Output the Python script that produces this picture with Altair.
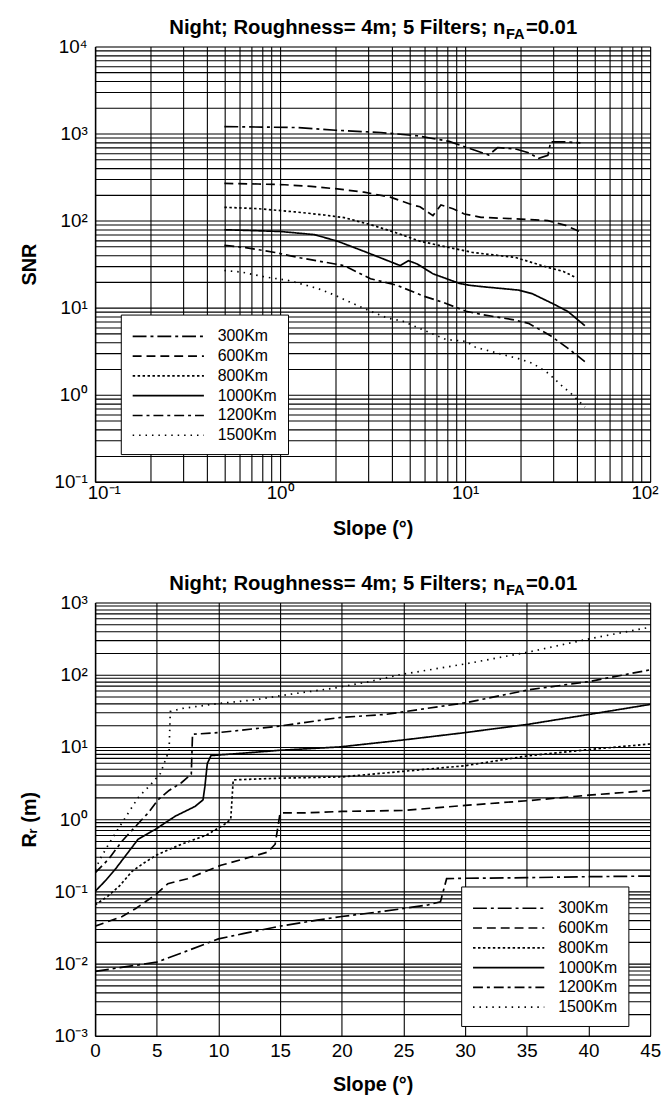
import altair as alt
import pandas as pd

FONT = "Liberation Sans"

series_names = ["300Km", "600Km", "800Km", "1000Km", "1200Km", "1500Km"]
dash_patterns = [[14, 4, 3, 4], [9, 5], [2.5, 2.5], [1, 0], [10, 4, 3, 4], [1.5, 5]]

# ---------------- top panel: SNR vs slope (log-log) ----------------
snr_x_300 = [0.5, 0.8, 1.25, 2.0, 3.5, 5.5, 8.2, 10.5, 13.4, 15, 19, 22, 25, 28, 29, 35, 42]
snr_y_300 = [1200, 1185, 1170, 1090, 1026, 942, 813, 677, 566, 690, 660, 600, 520, 560, 800, 800, 780]
snr_x_600 = [0.5, 0.76, 1.06, 1.47, 2.04, 2.84, 3.94, 5.25, 5.7, 6.7, 7.4, 8.6, 9.9, 12.2, 20, 28, 35, 42]
snr_y_600 = [267, 263, 258, 247, 231, 212, 186, 150, 144, 114, 151, 137, 119, 109, 104, 100, 88, 74]
snr_x_800 = [0.5, 0.76, 1.2, 1.73, 2.22, 3.07, 4.27, 5.7, 8.2, 11, 18.7, 28, 34, 40]
snr_y_800 = [142, 137, 126, 116, 108, 90, 72, 58, 49, 43, 37.7, 29, 26, 22]
snr_x_1000 = [0.5, 1.0, 1.53, 2.04, 2.95, 4.46, 4.94, 5.5, 6.7, 9.3, 10.5, 12.4, 19.5, 23, 30.6, 36, 44.4]
snr_y_1000 = [78.5, 75, 69, 58, 43, 30.4, 34.6, 31.8, 24.5, 19, 18.1, 17.4, 15.9, 14.5, 10.8, 9, 6.2]
snr_x_1200 = [0.5, 0.65, 0.73, 0.94, 1.25, 2.22, 3.08, 4.27, 5.94, 7.6, 10.1, 12.4, 18, 22, 28.8, 36, 44.4]
snr_y_1200 = [52, 49, 47, 43, 37.7, 30.4, 21.5, 18.1, 13.6, 11.5, 9.1, 8.3, 7.3, 6.6, 4.8, 3.4, 2.4]
snr_x_1500 = [0.5, 0.62, 0.83, 1.1, 1.6, 1.96, 2.4, 3.0, 3.8, 4.6, 6.0, 7.9, 10.1, 11.4, 15, 19.4, 23.1, 28.1, 33.4, 38, 44.4]
snr_y_1500 = [26.7, 25.6, 22.5, 20.6, 16.6, 14, 11.5, 9.3, 7.6, 7.0, 5.5, 4.3, 4.1, 3.5, 3.0, 2.6, 2.3, 1.77, 1.26, 1.0, 0.72]

# ---------------- bottom panel: Rr vs slope (lin-log) ----------------
rr_x_300 = [0, 2, 5, 7, 10, 12, 15, 18, 20, 23, 25, 27, 28, 28.5, 30, 35, 40, 45]
rr_y_300 = [0.0078, 0.0088, 0.0105, 0.014, 0.022, 0.026, 0.033, 0.040, 0.045, 0.052, 0.058, 0.065, 0.072, 0.15, 0.152, 0.155, 0.16, 0.163]
rr_x_600 = [0, 1, 2.2, 3.3, 4.9, 5.9, 7.5, 10.2, 12, 14, 14.6, 15, 17, 20, 25, 30, 35, 40, 45]
rr_y_600 = [0.033, 0.038, 0.045, 0.058, 0.09, 0.128, 0.15, 0.23, 0.28, 0.35, 0.45, 1.22, 1.22, 1.28, 1.32, 1.55, 1.8, 2.15, 2.5]
rr_x_800 = [0, 1, 2, 3, 4, 5, 7, 9, 10.5, 11.0, 11.2, 15, 20, 25, 30, 35, 40, 45]
rr_y_800 = [0.065, 0.085, 0.12, 0.19, 0.25, 0.32, 0.45, 0.6, 0.85, 1.0, 3.5, 3.7, 3.85, 4.6, 5.5, 7.5, 9.2, 11]
rr_x_1000 = [0, 0.86, 1.66, 2.46, 3.5, 4.87, 6.5, 8.1, 8.75, 8.9, 9.1, 9.4, 12, 15, 19.8, 25, 30, 35.2, 40.1, 45]
rr_y_1000 = [0.10, 0.142, 0.205, 0.31, 0.53, 0.72, 1.1, 1.5, 1.85, 2.8, 5.9, 7.6, 8.2, 9.0, 10, 12.5, 15.8, 20.7, 28.3, 38.8]
rr_x_1200 = [0, 1.1, 2.2, 3.3, 4.3, 5.1, 6, 7, 7.8, 7.9, 10, 15, 19.8, 23.6, 30, 35.2, 40.1, 45]
rr_y_1200 = [0.18, 0.28, 0.5, 0.8, 1.22, 1.85, 2.5, 3.2, 4.2, 15, 15.8, 19.5, 25.5, 28.3, 40.8, 62, 80.7, 117]
rr_x_1500 = [0, 0.5, 1.1, 2.2, 3.5, 4.5, 5.3, 6.0, 6.1, 7, 10, 13, 15.6, 19.3, 22.2, 24.7, 30.3, 35.2, 40.1, 45]
rr_y_1500 = [0.2, 0.3, 0.45, 0.9, 2.0, 3.0, 4.3, 9, 31, 34, 40, 45, 53, 65, 80, 100, 144, 207, 315, 455]

# tick / grid values
top_x_ticks = [m * 10.0 ** e for e in (-1, 0, 1) for m in range(1, 10)] + [100.0]
top_y_ticks = [m * 10.0 ** e for e in (-1, 0, 1, 2, 3) for m in range(1, 10)] + [10000.0]
bot_x_ticks = [0, 5, 10, 15, 20, 25, 30, 35, 40, 45]
bot_y_ticks = [m * 10.0 ** e for e in (-3, -2, -1, 0, 1, 2) for m in range(1, 10)] + [1000.0]

title_main = "Night; Roughness= 4m; 5 Filters; n"
title_sub = "FA"
title_end = "=0.01"


def build_df(xs_list, ys_list, xname, yname):
    rows = []
    for name, xs, ys in zip(series_names, xs_list, ys_list):
        for i, (a, b) in enumerate(zip(xs, ys)):
            rows.append({xname: a, yname: b, "alt": name, "i": i})
    return pd.DataFrame(rows)


top_df = build_df([snr_x_300, snr_x_600, snr_x_800, snr_x_1000, snr_x_1200, snr_x_1500],
                  [snr_y_300, snr_y_600, snr_y_800, snr_y_1000, snr_y_1200, snr_y_1500],
                  "slope", "snr")
bot_df = build_df([rr_x_300, rr_x_600, rr_x_800, rr_x_1000, rr_x_1200, rr_x_1500],
                  [rr_y_300, rr_y_600, rr_y_800, rr_y_1000, rr_y_1200, rr_y_1500],
                  "slope", "rr")

LOG_LABEL = ("abs(log(datum.value)/LN10 - round(log(datum.value)/LN10)) < 0.01 ? "
             "'10' + ['\u207b\u00b3','\u207b\u00b2','\u207b\u00b9','\u2070','\u00b9','\u00b2','\u00b3','\u2074']"
             "[round(log(datum.value)/LN10) + 3] : ''")

W = 561
H_TOP = 440
H_BOT = 438
FS_TITLE = 20.5


def axis(values, title, log=True, fmt=None, title_pad=15, label_pad=4, flush=False):
    kw = dict(values=values, grid=True, ticks=False, gridColor="black", gridWidth=1.1,
              gridOpacity=1, labelFont=FONT, labelFontSize=19, labelColor="black",
              labelPadding=label_pad, labelOverlap=False, labelFlush=flush,
              title=title, titleFont=FONT, titleFontSize=20, titleFontWeight="bold",
              titleColor="black", titlePadding=title_pad, domainColor="black", domainWidth=1.5)
    if flush:
        kw["labelFlushOffset"] = 8
    if log:
        kw["labelExpr"] = LOG_LABEL
    if fmt:
        kw["format"] = fmt
    return alt.Axis(**kw)


def legend(lx, ly):
    return alt.Legend(orient="none", legendX=lx, legendY=ly, title=None,
                      strokeColor="black", fillColor="white", padding=11,
                      symbolType="M-1,0H6.2", symbolSize=400, symbolStrokeWidth=1.7,
                      symbolStrokeColor="black", symbolFillColor="transparent",
                      labelFont=FONT, labelFontSize=16,
                      labelColor="black", rowPadding=1, labelOffset=65)


def title_layers():
    fs_sub = FS_TITLE * 0.72
    w_main = 16.586 * FS_TITLE
    w_sub = 1.333 * fs_sub
    w_end = 2.53 * FS_TITLE
    total = w_main + w_sub + w_end
    x0 = W / 2 - total / 2
    xa = x0 + w_main
    base = pd.DataFrame({"a": [title_main], "b": [title_sub], "c": [title_end]})
    common = dict(font=FONT, fontWeight="bold", color="black", baseline="alphabetic")
    t1 = alt.Chart(base).mark_text(align="right", fontSize=FS_TITLE, **common).encode(
        x=alt.value(xa), y=alt.value(-13), text="a:N")
    t2 = alt.Chart(base).mark_text(align="left", fontSize=fs_sub, **common).encode(
        x=alt.value(xa + 0.5), y=alt.value(-8), text="b:N")
    t3 = alt.Chart(base).mark_text(align="left", fontSize=FS_TITLE, **common).encode(
        x=alt.value(xa + w_sub + 1), y=alt.value(-13), text="c:N")
    return [t1, t2, t3]


top_lines = alt.Chart(top_df).mark_line(color="black", strokeWidth=1.7, clip=True).encode(
    x=alt.X("slope:Q", scale=alt.Scale(type="log", domain=[0.1, 100], nice=False),
            axis=axis(top_x_ticks, "Slope (\u00b0)", title_pad=16, label_pad=2, flush=True)),
    y=alt.Y("snr:Q", scale=alt.Scale(type="log", domain=[0.1, 10000], nice=False),
            axis=axis(top_y_ticks, "SNR", title_pad=15, label_pad=8)),
    strokeDash=alt.StrokeDash("alt:N", scale=alt.Scale(domain=series_names, range=dash_patterns),
                              legend=legend(26, 271)),
    order=alt.Order("i:Q"),
)
top = alt.layer(top_lines, *title_layers()).properties(width=W, height=H_TOP)

bot_lines = alt.Chart(bot_df).mark_line(color="black", strokeWidth=1.7, clip=True).encode(
    x=alt.X("slope:Q", scale=alt.Scale(domain=[0, 45], nice=False),
            axis=axis(bot_x_ticks, "Slope (\u00b0)", log=False, fmt="d", title_pad=14, label_pad=6)),
    y=alt.Y("rr:Q", scale=alt.Scale(type="log", domain=[0.001, 1000], nice=False),
            axis=axis(bot_y_ticks, "R\u1d63 (m)", title_pad=15, label_pad=8)),
    strokeDash=alt.StrokeDash("alt:N", scale=alt.Scale(domain=series_names, range=dash_patterns),
                              legend=legend(370, 287)),
    order=alt.Order("i:Q"),
)
bottom = alt.layer(bot_lines, *title_layers()).properties(width=W, height=H_BOT)

chart = (
    alt.vconcat(top, bottom, spacing=34)
    .resolve_scale(strokeDash="independent", x="independent", y="independent")
    .resolve_legend(strokeDash="independent")
    .properties(padding={"left": 11, "top": 3, "right": 2, "bottom": 2})
    .configure_view(stroke="black", strokeWidth=1.5)
    .configure(font=FONT)
)

chart.save("out.html", embed_options={"renderer": "svg", "actions": False})
